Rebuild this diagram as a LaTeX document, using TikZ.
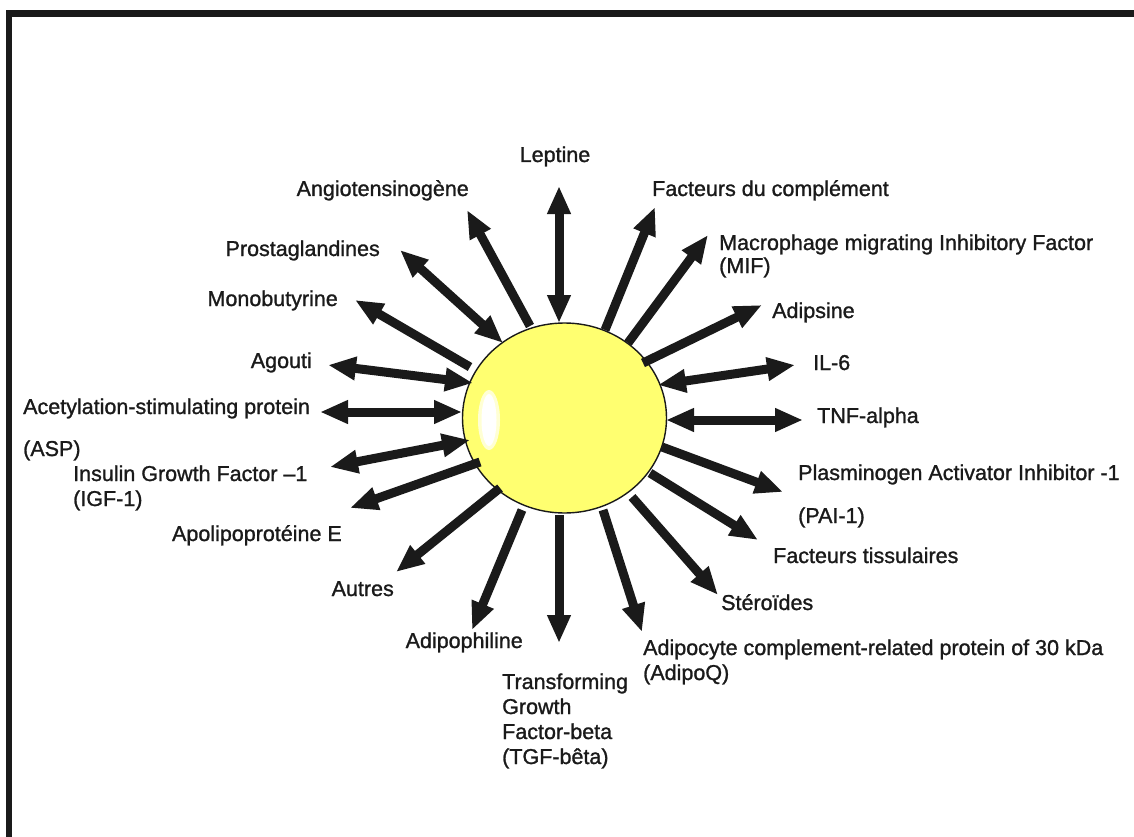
\documentclass[tikz,border=0pt]{standalone}
\usepackage{fontspec}
\setmainfont{Liberation Sans}[FakeBold=1.2]
\usetikzlibrary{arrows.meta,shapes.geometric}
\definecolor{ink}{HTML}{1A1A1A}
\definecolor{cellyellow}{RGB}{255,255,112}
\tikzset{
  lbl/.style={inner sep=0pt, text=ink, font=\fontsize{21.5pt}{25pt}\selectfont, align=left},
  arr/.style={line width=9pt, draw=ink, -{Triangle[length=28pt,width=22pt]}},
  darr/.style={line width=9pt, draw=ink, {Triangle[length=28pt,width=22pt]}-{Triangle[length=28pt,width=22pt]}},
}
\begin{document}
\begin{tikzpicture}[x=1pt,y=-1pt]
\useasboundingbox (0,0) rectangle (1134,837);
% frame
\draw[line width=6.5pt, ink, line join=miter] (9.2,837) -- (9.2,13.6) -- (1134,13.6);

% cell
\node[ellipse, draw=ink, line width=1.4pt, fill=cellyellow, minimum width=204pt, minimum height=190pt, inner sep=0pt] (cell) at (564.5,418) {};
\node[ellipse, fill=white!70!cellyellow, minimum width=22pt, minimum height=60pt, inner sep=0pt] (glow) at (489,420) {};
\node[ellipse, fill=white, minimum width=15pt, minimum height=52pt, inner sep=0pt] (shine) at (489,420) {};

% coordinates (inner i, outer o)
\coordinate (i1) at (559,323);  \coordinate (o1) at (559,186);
\coordinate (i2) at (530,326);  \coordinate (o2) at (467,210);
\coordinate (i3) at (503,343);  \coordinate (o3) at (400,250);
\coordinate (i4) at (470,367);  \coordinate (o4) at (355,300);
\coordinate (i5) at (473,383);  \coordinate (o5) at (328,365);
\coordinate (i6) at (462,412);  \coordinate (o6) at (320,412);
\coordinate (i7) at (470,440);  \coordinate (o7) at (330,467);
\coordinate (i8) at (480,462);  \coordinate (o8) at (350,508);
\coordinate (i9) at (500,488);  \coordinate (o9) at (396,572);
\coordinate (i10) at (522,510); \coordinate (o10) at (472,630);
\coordinate (i11) at (559,515); \coordinate (o11) at (559,643);
\coordinate (i12) at (603,510); \coordinate (o12) at (642,632);
\coordinate (i13) at (632,497); \coordinate (o13) at (718,595);
\coordinate (i14) at (650,473); \coordinate (o14) at (758,540);
\coordinate (i15) at (662,447); \coordinate (o15) at (783,492);
\coordinate (i16) at (666,420); \coordinate (o16) at (803,420);
\coordinate (i17) at (658,385); \coordinate (o17) at (795,365);
\coordinate (i18) at (643,363); \coordinate (o18) at (762,305);
\coordinate (i19) at (628,343); \coordinate (o19) at (708,235);
\coordinate (i20) at (605,330); \coordinate (o20) at (655,207);

% arrows
\draw[darr] (i1) -- (o1);
\draw[arr]  (i2) -- (o2);
\draw[darr] (i3) -- (o3);
\draw[arr]  (i4) -- (o4);
\draw[darr] (i5) -- (o5);
\draw[darr] (i6) -- (o6);
\draw[darr] (i7) -- (o7);
\draw[arr]  (i8) -- (o8);
\draw[arr]  (i9) -- (o9);
\draw[arr]  (i10) -- (o10);
\draw[arr]  (i11) -- (o11);
\draw[arr]  (i12) -- (o12);
\draw[arr]  (i13) -- (o13);
\draw[arr]  (i14) -- (o14);
\draw[arr]  (i15) -- (o15);
\draw[darr] (i16) -- (o16);
\draw[darr] (i17) -- (o17);
\draw[arr]  (i18) -- (o18);
\draw[arr]  (i19) -- (o19);
\draw[arr]  (i20) -- (o20);

% labels (base = baseline of the last line)
\node[lbl, anchor=base] (lep) at (555,162) {Leptine};
\node[lbl, anchor=base east] (ang) at (469,196) {Angiotensinogène};
\node[lbl, anchor=base east] (pro) at (380,256) {Prostaglandines};
\node[lbl, anchor=base east] (mon) at (338,306) {Monobutyrine};
\node[lbl, anchor=base east] (ago) at (312,368) {Agouti};
\node[lbl, anchor=base west] (asp) at (23,456) {Acetylation-stimulating protein\\[17pt](ASP)};
\node[lbl, anchor=base west] (igf) at (73,506) {Insulin Growth Factor –1\\(IGF-1)};
\node[lbl, anchor=base east] (apo) at (342,541) {Apolipoprotéine E};
\node[lbl, anchor=base east] (aut) at (394,596) {Autres};
\node[lbl, anchor=base east] (adp) at (523,648) {Adipophiline};
\node[lbl, anchor=base west] (tgf) at (502,764) {Transforming\\Growth\\Factor-beta\\(TGF-bêta)};
\node[lbl, anchor=base west] (adq) at (643,680) {Adipocyte complement-related protein of 30 kDa\\(AdipoQ)};
\node[lbl, anchor=base west] (ste) at (721,610) {Stéroïdes};
\node[lbl, anchor=base west] (fti) at (773,563) {Facteurs tissulaires};
\node[lbl, anchor=base west] (pai) at (798,523) {Plasminogen Activator Inhibitor -1\\[18pt](PAI-1)};
\node[lbl, anchor=base west] (tnf) at (817,423) {TNF-alpha};
\node[lbl, anchor=base west] (il6) at (813,370) {IL-6};
\node[lbl, anchor=base west] (ads) at (772,318) {Adipsine};
\node[lbl, anchor=base west] (mif) at (719,273) {Macrophage migrating Inhibitory Factor\\[-2pt](MIF)};
\node[lbl, anchor=base west] (fco) at (652,196) {Facteurs du complément};
\end{tikzpicture}
\end{document}
